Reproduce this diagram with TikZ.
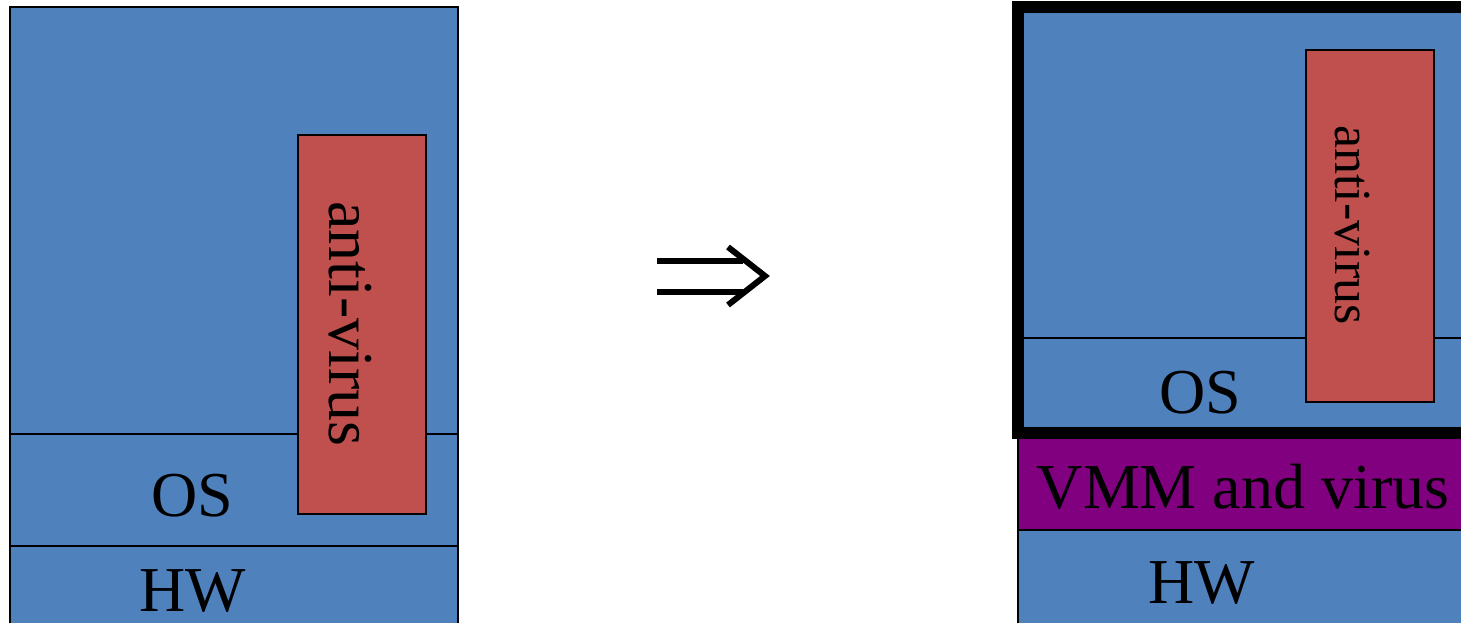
\documentclass[tikz,border=0pt]{standalone}
\usepackage{fontspec}
\setmainfont{Liberation Serif}
\definecolor{layerblue}{RGB}{79,129,189}
\definecolor{avred}{RGB}{192,80,77}
\definecolor{vmmpurple}{RGB}{128,0,128}
\begin{document}
\begin{tikzpicture}[x=0.5pt,y=-0.5pt,
  layer/.style={fill=layerblue,draw=black,line width=0.8pt},
  avbox/.style={fill=avred,draw=black,line width=0.8pt},
  vmmbox/.style={fill=vmmpurple,draw=black,line width=0.8pt},
  lbl/.style={inner sep=0pt,anchor=base,font=\fontsize{32}{38}\selectfont},
  vlbl/.style={lbl,rotate=-90},
  bigarrow/.style={line width=3pt}]
\useasboundingbox (0,0) rectangle (1461,622);
\clip (0,0) rectangle (1461,622);
% left stack
\draw[layer] (10,7) rectangle (458,434);
\draw[layer] (10,434) rectangle (458,546);
\draw[layer] (10,546) rectangle (458,640);
\draw[avbox] (298,135) rectangle (426,514);
\node[vlbl] (avL) at (329,324) {anti-virus};
\node[lbl] (osL) at (192,516) {OS};
\node[lbl] (hwL) at (193,611) {HW};
% arrow
\coordinate (a1) at (657,261);
\coordinate (a2) at (743,261);
\coordinate (a3) at (657,292);
\coordinate (a4) at (743,292);
\coordinate (c1) at (728,247);
\coordinate (c2) at (765,276);
\coordinate (c3) at (728,305);
\draw[bigarrow] (a1) -- (a2);
\draw[bigarrow] (a3) -- (a4);
\draw[bigarrow,line join=miter] (c1) -- (c2) -- (c3);
% right stack
\draw[layer] (1018,530) rectangle (1480,640);
\draw[vmmbox] (1018,438) rectangle (1480,530);
\draw[layer] (1018,7) rectangle (1480,338);
\draw[layer] (1018,338) rectangle (1480,433);
\draw[avbox] (1306,50) rectangle (1434,402);
\draw[line width=6pt] (1018,7) rectangle (1480,433);
\node[vlbl,font=\fontsize{26}{31}\selectfont] (avR) at (1335,225) {anti-virus};
\node[lbl] (osR) at (1200,413) {OS};
\node[lbl] (vmm) at (1243,508) {VMM and virus};
\node[lbl] (hwR) at (1202,603) {HW};
\end{tikzpicture}
\end{document}
